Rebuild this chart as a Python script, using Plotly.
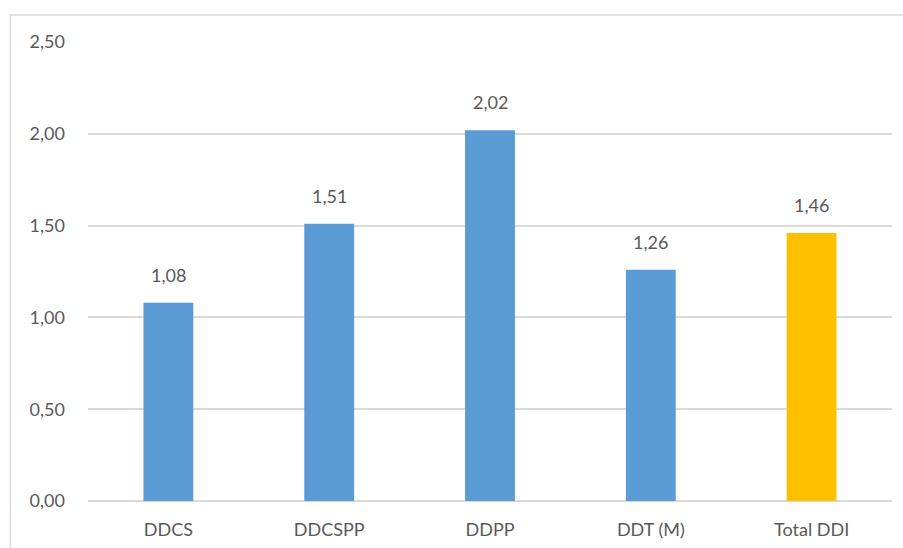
import plotly.graph_objects as go

categories = ["DDCS", "DDCSPP", "DDPP", "DDT (M)", "Total DDI"]
values = [1.08, 1.51, 2.02, 1.26, 1.46]
bar_colors = ["#5B9BD5", "#5B9BD5", "#5B9BD5", "#5B9BD5", "#FFC000"]
y_ticks = [0, 0.5, 1.0, 1.5, 2.0, 2.5]

FONT = "Lato, 'Open Sans', sans-serif"
TEXT_COLOR = "#595959"

fig = go.Figure(
    go.Bar(
        x=categories,
        y=values,
        marker=dict(color=bar_colors, line=dict(width=0)),
        hoverinfo="x+y",
    )
)

# value labels sitting above each bar
for cat, val in zip(categories, values):
    fig.add_annotation(
        x=cat, y=val, text=f"{val:.2f}".replace(".", ","),
        showarrow=False, yanchor="bottom", yshift=15,
        font=dict(family=FONT, size=18, color=TEXT_COLOR),
    )

# chart frame
fig.add_shape(
    type="rect", xref="paper", yref="paper",
    x0=-0.0965, x1=1.05, y0=-0.2, y1=1.0588,
    line=dict(color="#D9D9D9", width=1.5), fillcolor="rgba(0,0,0,0)",
    layer="below",
)

fig.update_layout(
    width=903, height=548,
    margin=dict(l=88, r=11, t=42, b=47),
    paper_bgcolor="white", plot_bgcolor="white",
    separators=",.",
    bargap=0.69,
    showlegend=False,
    font=dict(family=FONT, size=18, color=TEXT_COLOR),
    xaxis=dict(
        showline=False, showgrid=False, ticks="", automargin=False,
        tickfont=dict(family=FONT, size=18, color=TEXT_COLOR),
        ticklabelstandoff=16,
    ),
    yaxis=dict(
        range=[0, 2.5], tickvals=y_ticks, tickformat=".2f", automargin=False,
        showgrid=True, gridcolor="#D9D9D9", gridwidth=1.5,
        zeroline=True, zerolinecolor="#D9D9D9", zerolinewidth=1.5,
        showline=False, ticks="", ticklabelstandoff=22,
        tickfont=dict(family=FONT, size=18, color=TEXT_COLOR),
    ),
)

fig.write_html("out.html")
